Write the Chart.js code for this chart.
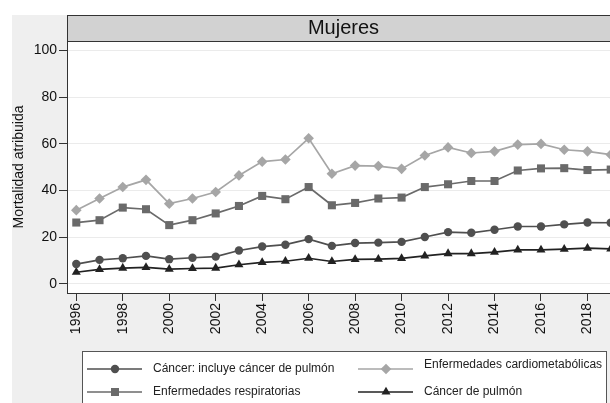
<!DOCTYPE html>
<html>
<head>
<meta charset="utf-8">
<script src="https://cdn.jsdelivr.net/npm/chart.js@4/dist/chart.umd.min.js"></script>
<style>
  html, body { margin:0; padding:0; background:#fff; overflow:hidden; }
  #wrap { width:610px; height:403px; overflow:hidden; }
</style>
</head>
<body>
<div id="wrap"><canvas id="chart" width="640" height="403"></canvas></div>
<script>
// data (mortalidad atribuida, mujeres)
const years = [1996,1997,1998,1999,2000,2001,2002,2003,2004,2005,2006,2007,2008,2009,2010,2011,2012,2013,2014,2015,2016,2017,2018,2019];
const cancerTotal = [8.4,10.2,10.9,11.9,10.5,11.1,11.6,14.2,15.9,16.7,19.1,16.2,17.4,17.6,17.9,20.0,22.1,21.8,23.1,24.5,24.5,25.4,26.2,26.1];
const cardio      = [31.5,36.5,41.4,44.5,34.3,36.5,39.3,46.4,52.3,53.2,62.3,47.1,50.6,50.4,49.2,54.9,58.4,56.0,56.7,59.6,59.9,57.4,56.7,55.3];
const respir      = [26.2,27.2,32.6,31.9,25.1,27.2,30.1,33.3,37.6,36.2,41.4,33.6,34.6,36.5,36.9,41.4,42.6,44.0,44.0,48.5,49.4,49.5,48.7,48.9];
const lung        = [4.9,6.1,6.7,7.0,6.2,6.5,6.7,8.1,9.1,9.6,10.9,9.5,10.4,10.5,10.8,11.9,12.9,12.9,13.5,14.5,14.5,14.8,15.2,14.9];
const yTicks = [0,20,40,60,80,100];
const xTicks = [1996,1998,2000,2002,2004,2006,2008,2010,2012,2014,2016,2018];
const panelTitle = "Mujeres";
const yTitle = "Mortalidad atribuida";

const FONT = "'Liberation Sans', Arial, sans-serif";

function pts(vals){ return years.map((y,i)=>({x:y, y:vals[i]})); }

function ds(label, vals, color, style, r){
  return {
    label, data: pts(vals),
    borderColor: color, backgroundColor: color,
    pointBackgroundColor: color, pointBorderColor: color,
    pointStyle: style, pointRadius: r, pointBorderWidth: 0,
    borderWidth: 1.7, tension: 0
  };
}

// gray outer frame, white plot, header strip, legend box
const frame = {
  id: "frame",
  beforeDraw(chart){
    const {ctx, chartArea:a, width, height} = chart;
    ctx.save();
    ctx.fillStyle = "#fff";
    ctx.fillRect(0,0,width,height);
    ctx.fillStyle = "#efefef";
    ctx.fillRect(12,15,width-12,height-15);
    ctx.fillStyle = "#fff";
    ctx.fillRect(a.left,a.top,a.right-a.left,a.bottom-a.top);
    ctx.restore();
  },
  afterDraw(chart){
    const {ctx, chartArea:a} = chart;
    ctx.save();
    // header strip
    ctx.fillStyle = "#d2d2d2";
    ctx.fillRect(a.left,15,a.right-a.left,a.top-15);
    ctx.strokeStyle = "#333";
    ctx.lineWidth = 1;
    ctx.strokeRect(a.left+0.5,15.5,a.right-a.left,a.top-15);
    ctx.fillStyle = "#111";
    ctx.font = "20px " + FONT;
    ctx.textAlign = "center";
    ctx.textBaseline = "middle";
    ctx.fillText(panelTitle,(a.left+a.right)/2,28.5);

    // legend box
    ctx.fillStyle = "#fff";
    ctx.fillRect(82,351,525,60);
    ctx.strokeStyle = "#555";
    ctx.strokeRect(82.5,351.5,524,60);
    const cols = [87,358];
    const rows = [369,392];
    chart.data.datasets.forEach((d,i)=>{
      const x = cols[i%2], y = rows[Math.floor(i/2)];
      ctx.strokeStyle = d.borderColor;
      ctx.lineWidth = 1.7;
      ctx.beginPath(); ctx.moveTo(x,y); ctx.lineTo(x+55,y); ctx.stroke();
      ctx.fillStyle = d.pointBackgroundColor;
      Chart.helpers.drawPoint(ctx,{pointStyle:d.pointStyle,radius:d.pointRadius,borderWidth:0},x+28,y);
      ctx.fillStyle = "#222";
      ctx.font = "12px " + FONT;
      ctx.textAlign = "left";
      ctx.fillText(d.label,x+66,i===1 ? y-4 : y);
    });
    ctx.restore();
  }
};

new Chart(document.getElementById("chart"), {
  type: "line",
  data: {
    datasets: [
      ds("Cáncer: incluye cáncer de pulmón", cancerTotal, "#4f4f4f", "circle", 4.2),
      ds("Enfermedades cardiometabólicas", cardio, "#a6a6a6", "rectRot", 5.3),
      ds("Enfermedades respiratorias", respir, "#6a6a6a", "rect", 5.7),
      ds("Cáncer de pulmón", lung, "#222222", "triangle", 5.2)
    ]
  },
  options: {
    responsive: false,
    devicePixelRatio: 1,
    animation: false,
    layout: { padding: { left: 11, top: 41, right: 20, bottom: 55 } },
    plugins: { legend: { display: false }, tooltip: { enabled: false } },
    scales: {
      x: {
        type: "linear", min: 1995.6, max: 2019.4,
        afterBuildTicks: s => { s.ticks = xTicks.map(v=>({value:v})); },
        afterFit: s => { s.height = 55; },
        grid: { display: true, drawOnChartArea: false, tickLength: 8, color: "#333" },
        border: { display: true, color: "#333", width: 1 },
        ticks: { minRotation: 90, maxRotation: 90, padding: 2, color: "#111",
                 font: { family: FONT, size: 14 }, callback: v => String(v) }
      },
      y: {
        min: -4, max: 104,
        afterBuildTicks: s => { s.ticks = yTicks.map(v=>({value:v})); },
        afterFit: s => { s.width = 56; },
        grid: { color: "#ebebeb", tickLength: 8, tickColor: "#333" },
        border: { display: true, color: "#333", width: 1 },
        ticks: { padding: 2, color: "#111", font: { family: FONT, size: 14 } },
        title: { display: true, text: yTitle, color: "#111", padding: 0,
                 font: { family: FONT, size: 14 } }
      }
    }
  },
  plugins: [frame]
});
</script>
</body>
</html>
